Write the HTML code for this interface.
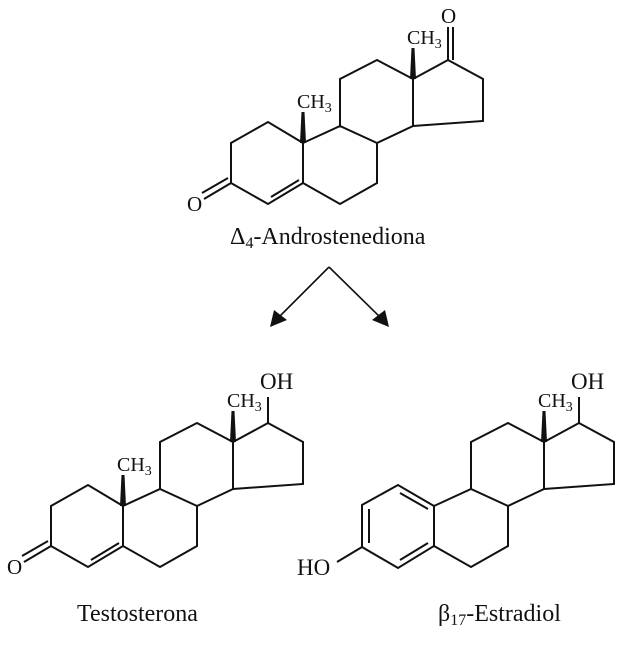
<!DOCTYPE html>
<html><head><meta charset="utf-8"><style>
html,body{margin:0;padding:0;background:#fff;}
svg{display:block;}
text{font-family:"Liberation Serif",serif;fill:#111;}
</style></head><body>
<svg width="623" height="647" viewBox="0 0 623 647" xmlns="http://www.w3.org/2000/svg">
<defs>
<g id="cd" stroke="#111" stroke-width="2" fill="none">
<polyline points="303,143 340,126 377,143 377,183 340,204 303,183"/>
<polyline points="340,126 340,79 377,60 413,79 413,126 377,143"/>
<polyline points="413,79 448,60 483,79 483,121 413,126"/>
<polygon points="410,79 416,79 414.5,48 411.5,48" fill="#111" stroke="none"/>
</g>
</defs>

<!-- Androstenedione -->
<use href="#cd"/>
<g stroke="#111" stroke-width="2" fill="none">
<polyline points="303,183 303,143 268,122 231,143 231,183 268,204 303,183"/>
<line x1="271" y1="197" x2="299" y2="180"/>
<line x1="231" y1="183" x2="204" y2="199"/>
<line x1="228" y1="178" x2="202" y2="193"/>
<line x1="448" y1="60" x2="448" y2="27"/>
<line x1="453" y1="60" x2="453" y2="27"/>
</g>
<polygon points="300,143 306,143 304.5,112 301.5,112" fill="#111"/>
<text x="187" y="211" font-size="21">O</text>
<text x="441" y="23" font-size="21">O</text>
<text x="297" y="108" font-size="20">CH<tspan font-size="14" dy="4">3</tspan></text>
<text x="407" y="44" font-size="20">CH<tspan font-size="14" dy="4">3</tspan></text>
<text x="230" y="244" font-size="24">Δ<tspan font-size="16" dy="4">4</tspan><tspan dy="-4">-Androstenediona</tspan></text>

<!-- arrows -->
<g stroke="#111" stroke-width="1.6" fill="none">
<line x1="329" y1="267" x2="276" y2="320"/>
<line x1="329" y1="267" x2="383" y2="320"/>
</g>
<polygon points="270,327 274,310 287,320" fill="#111"/>
<polygon points="389,327 372,320 385,310" fill="#111"/>

<!-- Testosterone -->
<g transform="translate(-180,363)">
<use href="#cd"/>
<g stroke="#111" stroke-width="2" fill="none">
<polyline points="303,183 303,143 268,122 231,143 231,183 268,204 303,183"/>
<line x1="271" y1="197" x2="299" y2="180"/>
<line x1="231" y1="183" x2="204" y2="199"/>
<line x1="228" y1="178" x2="202" y2="193"/>
<line x1="448" y1="60" x2="448" y2="34"/>
</g>
<polygon points="300,143 306,143 304.5,112 301.5,112" fill="#111"/>
<text x="187" y="211" font-size="21">O</text>
<text x="440" y="26" font-size="23">OH</text>
<text x="297" y="108" font-size="20">CH<tspan font-size="14" dy="4">3</tspan></text>
<text x="407" y="44" font-size="20">CH<tspan font-size="14" dy="4">3</tspan></text>
</g>
<text x="77" y="621" font-size="24">Testosterona</text>

<!-- Estradiol -->
<g transform="translate(131,363)">
<use href="#cd"/>
<g stroke="#111" stroke-width="2" fill="none">
<line x1="448" y1="60" x2="448" y2="34"/>
</g>
<text x="440" y="26" font-size="23">OH</text>
<text x="407" y="44" font-size="20">CH<tspan font-size="14" dy="4">3</tspan></text>
</g>
<g stroke="#111" stroke-width="2" fill="none">
<polygon points="434,506 398,485 362,505 362,547 398,568 434,546"/>
<line x1="400" y1="493" x2="428" y2="509"/>
<line x1="369" y1="509" x2="369" y2="543"/>
<line x1="400" y1="560" x2="428" y2="543"/>
<line x1="362" y1="547" x2="337" y2="562"/>
</g>
<text x="297" y="575" font-size="23">HO</text>
<text x="438" y="621" font-size="24">β<tspan font-size="16" dy="4">17</tspan><tspan dy="-4">-Estradiol</tspan></text>
</svg>
</body></html>
